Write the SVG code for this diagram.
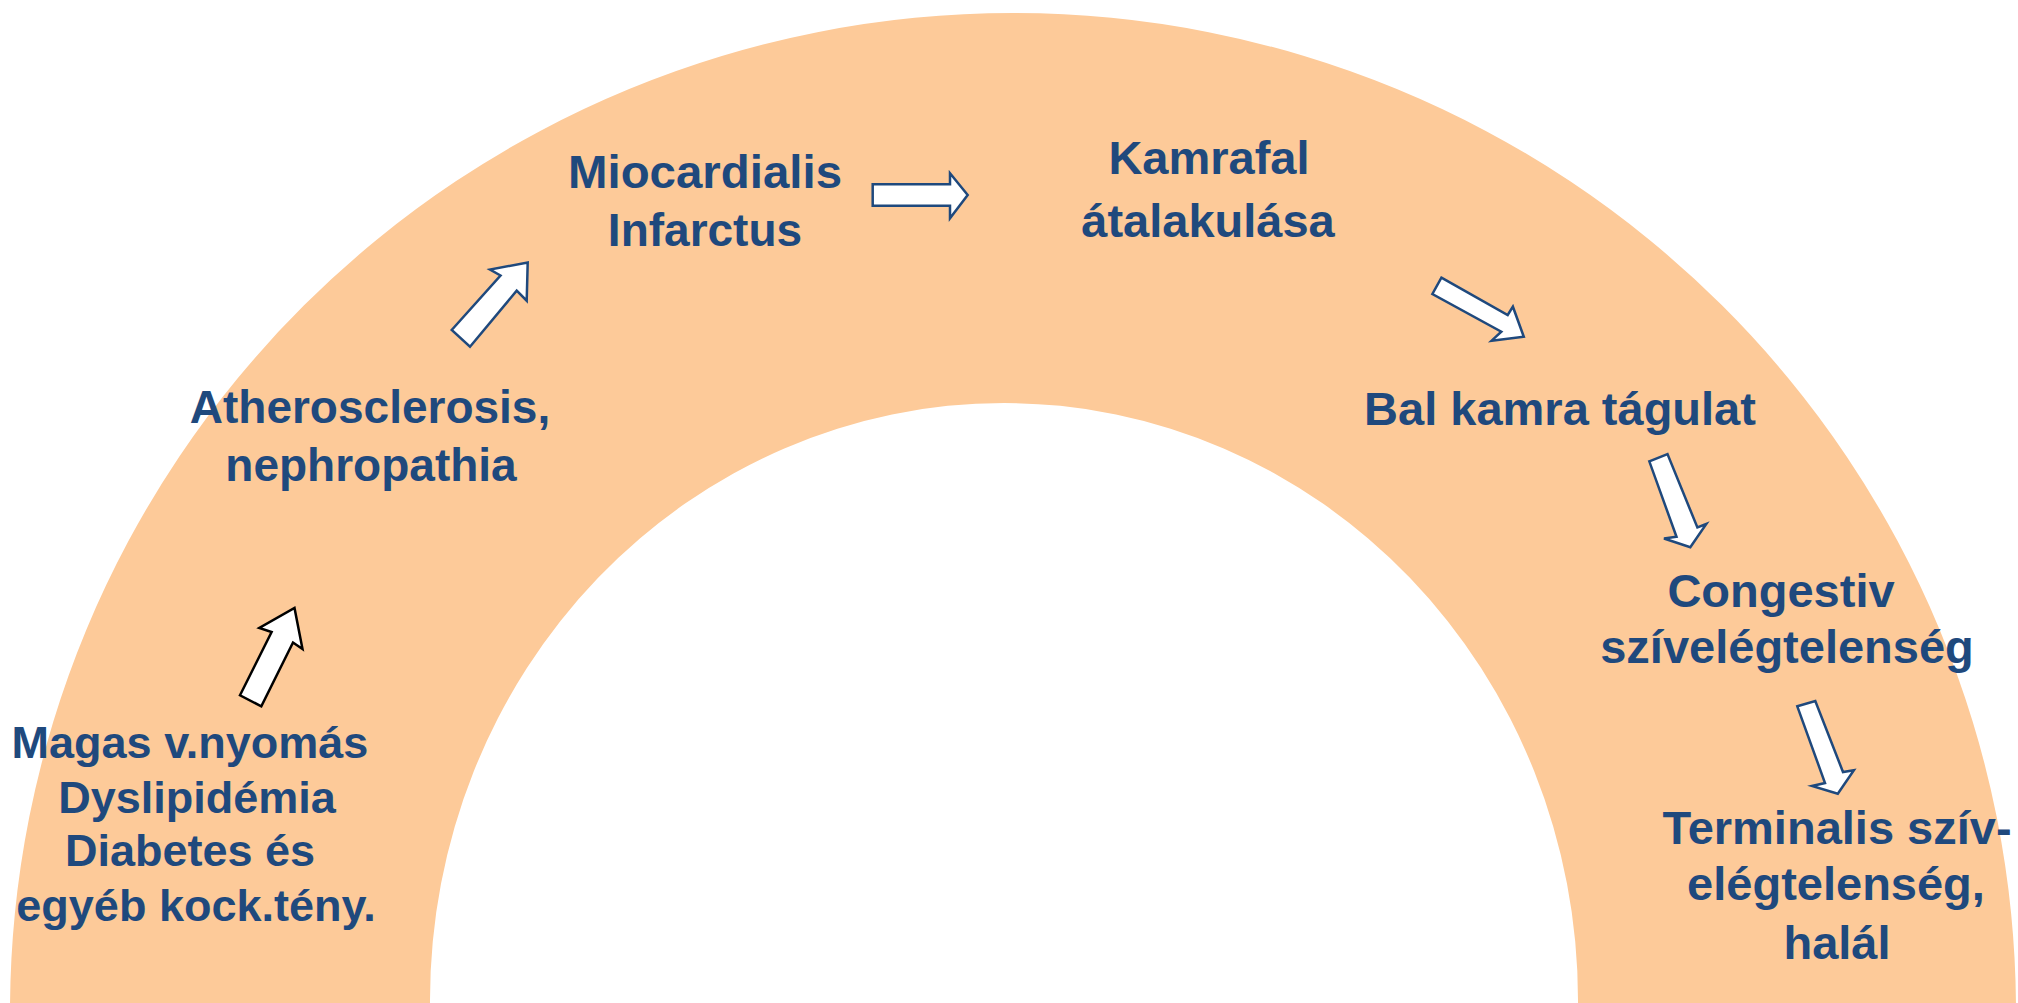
<svg xmlns="http://www.w3.org/2000/svg" width="2018" height="1003" viewBox="0 0 2018 1003">
<style>
.t{font-family:"Liberation Sans",Arial,sans-serif;font-weight:bold;fill:#1F497D;text-anchor:middle}
.s47{font-size:47px}
.s45{font-size:45px}
.s46{font-size:46px}
.ab{fill:#FFFFFF;stroke:#1F497D;stroke-width:2.5;stroke-linejoin:miter}
.ak{fill:#FFFFFF;stroke:#000000;stroke-width:2.5;stroke-linejoin:miter}
</style>
<rect x="0" y="0" width="2018" height="1003" fill="#FFFFFF"/>
<path id="arch" d="M10 1012 A1003 999 0 0 1 2016 1012 L1578 1012 L1578 1000 A574 597 0 0 0 430 1000 L430 1012 Z" fill="#FDCA99"/>
<g id="n1"><text class="t s45"><tspan x="190" y="758">Magas v.nyomás</tspan><tspan x="197" y="813">Dyslipidémia</tspan><tspan x="190" y="866">Diabetes és</tspan><tspan x="196" y="921">egyéb kock.tény.</tspan></text></g>
<g id="n2"><text class="t s46"><tspan x="370" y="423">Atherosclerosis,</tspan><tspan x="371" y="481">nephropathia</tspan></text></g>
<g id="n3"><text class="t s46"><tspan x="705" y="188" textLength="274" lengthAdjust="spacingAndGlyphs">Miocardialis</tspan><tspan x="705" y="246">Infarctus</tspan></text></g>
<g id="n4"><text class="t s47"><tspan x="1209" y="174">Kamrafal</tspan><tspan x="1208" y="237">átalakulása</tspan></text></g>
<g id="n5"><text class="t s47"><tspan x="1560" y="425">Bal kamra tágulat</tspan></text></g>
<g id="n6"><text class="t s47"><tspan x="1781" y="607">Congestiv</tspan><tspan x="1787" y="663">szívelégtelenség</tspan></text></g>
<g id="n7"><text class="t s47"><tspan x="1837" y="844">Terminalis szív-</tspan><tspan x="1836" y="900">elégtelenség,</tspan><tspan x="1837" y="959">halál</tspan></text></g>
<g id="connectors">
<polygon class="ak" points="240,695.3 271.6,632 259.3,628 294.5,608 302.5,649 293,642.5 261.3,706.3"/>
<polygon class="ab" points="451.7,330 500.5,275.5 490,269.5 527.7,262.5 526.7,300.7 516.7,290.7 470,346.7"/>
<polygon class="ab" points="872.7,184.3 950,184.3 950,173.3 967.7,195 950,218.3 950,205.7 872.7,205.7"/>
<polygon class="ab" points="1441.4,277.7 1507.7,315 1512.9,306.7 1523.8,336.7 1491.6,340.7 1501.3,331.7 1432.4,294"/>
<polygon class="ab" points="1649.3,461.3 1667.5,454 1697.4,527.5 1706.3,524 1690.3,547.2 1664,538.5 1676.5,536.8"/>
<polygon class="ab" points="1797.3,706.3 1815.3,701 1843,772 1853.9,770.3 1837.8,793.7 1812,786 1825,783"/>
</g>
</svg>
